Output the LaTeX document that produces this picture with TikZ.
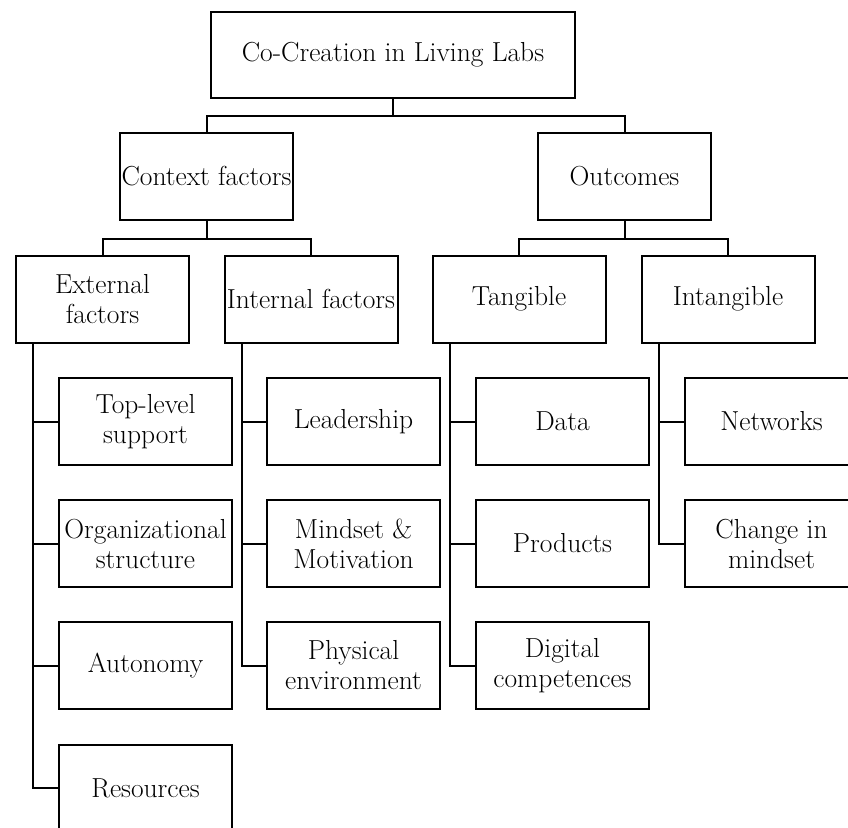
\documentclass[tikz,border=0pt]{standalone}
\begin{document}
\begin{tikzpicture}[x=1pt,y=-1pt,
  box/.style={draw,line width=2pt,fill=white,inner sep=0pt,align=center,
    minimum width=173pt,minimum height=87pt,
    font=\fontsize{27.5}{30}\selectfont},
  link/.style={line width=2pt}]
\useasboundingbox (0,0) rectangle (848,827);
\clip (0,0) rectangle (848,827);
\fill[white] (0,0) rectangle (848,827);
% top levels
\node[box,minimum width=364pt,minimum height=86pt] (root) at (393,55) {Co-Creation in Living Labs};
\node[box] (ctx) at (206.5,176.5) {Context factors};
\node[box] (out) at (624.5,176.5) {Outcomes};
\node[box] (ext) at (102.5,299) {External\\factors};
\node[box] (int) at (311,299) {Internal factors};
\node[box] (tan) at (519,299) {Tangible};
\node[box] (itg) at (728,299) {Intangible};
% leaves
\node[box] (e1) at (145.5,421.5) {Top-level\\support};
\node[box] (e2) at (145.5,543.5) {Organizational\\structure};
\node[box] (e3) at (145.5,665.5) {Autonomy};
\node[box] (e4) at (145.5,788) {Resources};
\node[box] (i1) at (353.5,421.5) {Leadership};
\node[box] (i2) at (353.5,543.5) {Mindset \&\\Motivation};
\node[box] (i3) at (353.5,665.5) {Physical\\environment};
\node[box] (t1) at (562.5,421.5) {Data};
\node[box] (t2) at (562.5,543.5) {Products};
\node[box] (t3) at (562.5,665.5) {Digital\\competences};
\node[box] (n1) at (771.5,421.5) {Networks};
\node[box] (n2) at (771.5,543.5) {Change in\\mindset};
% connectors
\draw[link] (root.south) -- ++(0,17) -| (ctx.north);
\draw[link] (root.south) -- ++(0,17) -| (out.north);
\draw[link] (ctx.south) -- ++(0,18) -| (ext.north);
\draw[link] (ctx.south) -- ++(0,18) -| (int.north);
\draw[link] (out.south) -- ++(0,18) -| (tan.north);
\draw[link] (out.south) -- ++(0,18) -| (itg.north);
\foreach \p/\c in {ext/e1,ext/e2,ext/e3,ext/e4,int/i1,int/i2,int/i3,tan/t1,tan/t2,tan/t3,itg/n1,itg/n2}
  \draw[link] ([xshift=18pt]\p.south west) |- (\c.west);
\end{tikzpicture}
\end{document}
